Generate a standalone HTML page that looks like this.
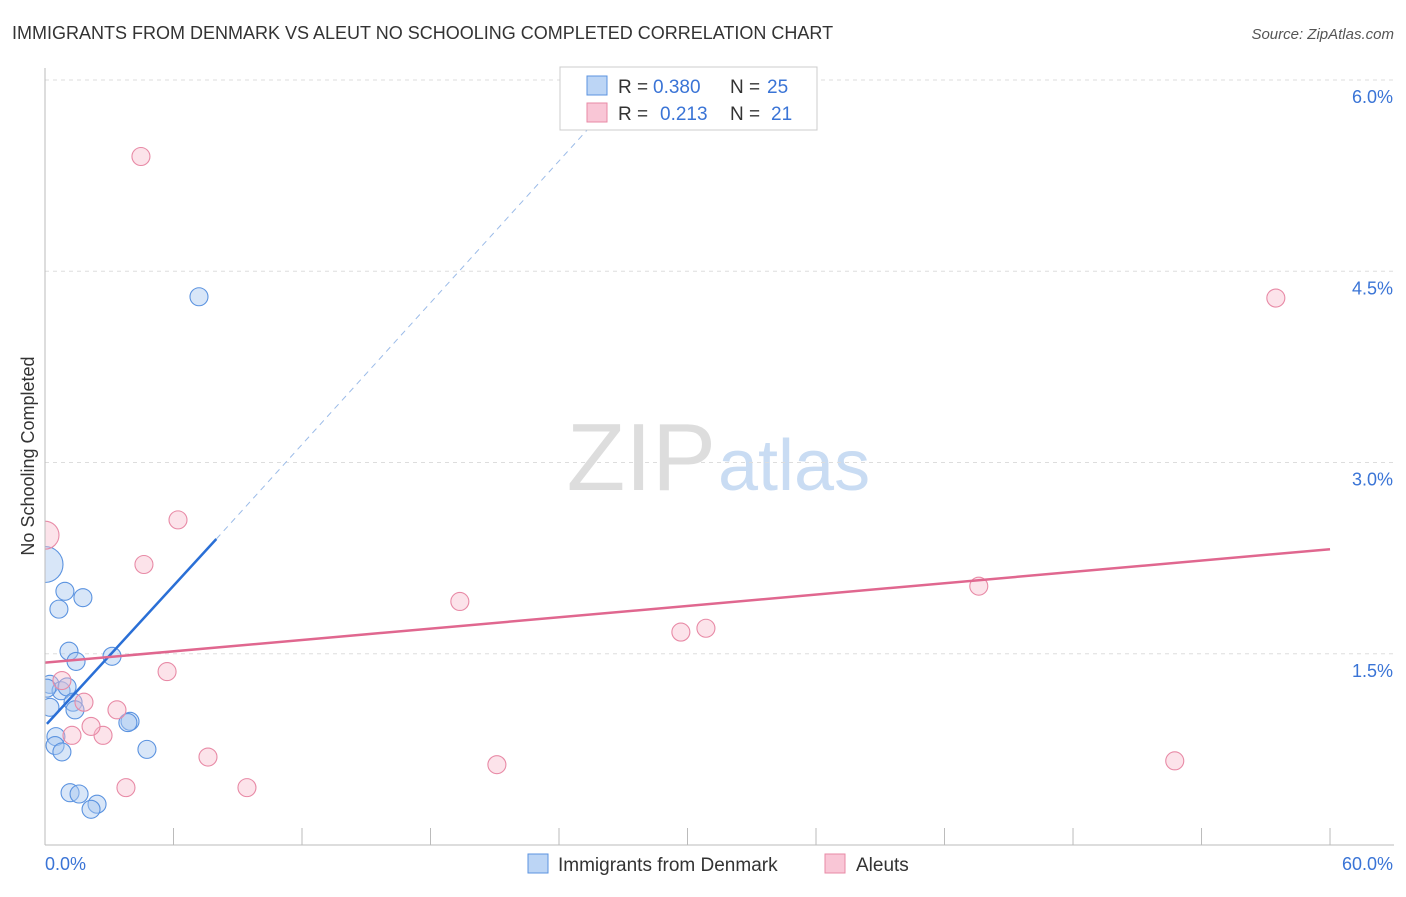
<!DOCTYPE html>
<html><head><meta charset="utf-8"><style>
body{margin:0;background:#fff;font-family:"Liberation Sans",sans-serif}
svg text{font-family:"Liberation Sans",sans-serif}
</style></head><body>
<svg width="1406" height="892">
<text x="12" y="39" font-size="18" fill="#333">IMMIGRANTS FROM DENMARK VS ALEUT NO SCHOOLING COMPLETED CORRELATION CHART</text>
<text x="1394" y="39" font-size="15" fill="#555" text-anchor="end" font-style="italic">Source: ZipAtlas.com</text>
<text x="716" y="490" font-size="96" fill="#ddd" text-anchor="end" font-family="Liberation Serif">ZIP</text>
<text x="718" y="490" font-size="72" fill="#c9dcf3">atlas</text>
<g id="grid"></g>
<g id="axes"></g>
<g id="marks"></g>
<rect x="0" y="60" width="45" height="790" fill="#fff"/>
<line x1="45" y1="68" x2="45" y2="845" stroke="#bbb"/>
<text transform="translate(34,456) rotate(-90)" font-size="18" fill="#333" text-anchor="middle">No Schooling Completed</text>
<g>
<rect x="560" y="67" width="257" height="63" fill="#fff" stroke="#ccc"/>
<rect x="587" y="76" width="20" height="19" fill="#bcd5f5" stroke="#5b93e0"/>
<rect x="587" y="103" width="20" height="19" fill="#f9c6d6" stroke="#e88aa6"/>
<text x="618" y="93" font-size="19" fill="#333">R =</text>
<text x="653" y="93" font-size="19" fill="#3a74d6">0.380</text>
<text x="730" y="93" font-size="19" fill="#333">N =</text>
<text x="767" y="93" font-size="19" fill="#3a74d6">25</text>
<text x="618" y="120" font-size="19" fill="#333">R =</text>
<text x="660" y="120" font-size="19" fill="#3a74d6">0.213</text>
<text x="730" y="120" font-size="19" fill="#333">N =</text>
<text x="771" y="120" font-size="19" fill="#3a74d6">21</text>
</g>
<g>
<rect x="528" y="854" width="20" height="19" fill="#bcd5f5" stroke="#5b93e0"/>
<text x="558" y="871" font-size="19" fill="#333">Immigrants from Denmark</text>
<rect x="825" y="854" width="20" height="19" fill="#f9c6d6" stroke="#e88aa6"/>
<text x="856" y="871" font-size="19" fill="#333">Aleuts</text>
</g>
</svg>
<script>
const xTicks=[0,6,12,18,24,30,36,42,48,54,60];
const yTicks=[1.5,3.0,4.5,6.0];
const blueX=[0,0.93,1.77,0.65,1.12,1.45,3.13,0.23,0.75,1.03,0.23,1.31,1.4,3.97,3.87,0.51,0.47,0.79,4.76,1.17,1.59,2.43,2.15,7.19,0.09];
const blueY=[2.2,1.99,1.94,1.85,1.52,1.44,1.48,1.26,1.21,1.24,1.08,1.12,1.06,0.97,0.96,0.85,0.78,0.73,0.75,0.41,0.40,0.32,0.28,4.3,1.23];
const blueR=[18,9,9,9,9,9,9,9,9,9,9,9,9,9,9,9,9,9,9,9,9,9,9,9,9];
const pinkX=[0,4.48,6.21,4.62,19.37,29.69,30.86,43.6,57.47,52.75,21.1,7.61,9.43,3.78,5.7,1.82,0.79,3.36,2.71,1.26,2.15];
const pinkY=[2.43,5.4,2.55,2.2,1.91,1.67,1.70,2.03,4.29,0.66,0.63,0.69,0.45,0.45,1.36,1.12,1.29,1.06,0.86,0.86,0.93];
const pinkR=[14,9,9,9,9,9,9,9,9,9,9,9,9,9,9,9,9,9,9,9,9];
const blueLine=[0.09,0.95,8,2.4,25.7,5.68];
const pinkLine=[0,1.43,60,2.32];
const X=v=>45+v*21.417, Y=v=>845-v*127.5;
const NS="http://www.w3.org/2000/svg";
function mk(t,a,p){const e=document.createElementNS(NS,t);for(const k in a)e.setAttribute(k,a[k]);p.appendChild(e);return e;}
const g=document.getElementById('grid'),ax=document.getElementById('axes'),m=document.getElementById('marks');
yTicks.forEach(v=>{const l=mk('line',{x1:45,x2:1394,y1:Y(v),y2:Y(v),stroke:'#ddd','stroke-dasharray':'4,4'},g);


const t=mk('text',{x:1393,y:Y(v)+23,'font-size':18,fill:'#3a74d6','text-anchor':'end'},ax);t.textContent=v.toFixed(1)+'%';

});
mk('line',{x1:45,x2:1394,y1:845,y2:845,stroke:'#bbb'},ax);
xTicks.forEach(v=>{const l=mk('line',{x1:X(v),x2:X(v),y1:828,y2:845,stroke:'#bbb'},ax);

});
const t0=mk('text',{x:45,y:870,'font-size':18,fill:'#3a74d6'},ax);t0.textContent=xTicks[0].toFixed(1)+'%';


const t1=mk('text',{x:1393,y:870,'font-size':18,fill:'#3a74d6','text-anchor':'end'},ax);t1.textContent=xTicks[xTicks.length-1].toFixed(1)+'%';


blueX.forEach((v,i)=>{const c=mk('circle',{cx:X(v),cy:Y(blueY[i]),r:blueR[i],fill:'#a9c8f0','fill-opacity':0.45,stroke:'#5b93e0','stroke-width':1.1},m);

});
pinkX.forEach((v,i)=>{const c=mk('circle',{cx:X(v),cy:Y(pinkY[i]),r:pinkR[i],fill:'#f7b8cb','fill-opacity':0.4,stroke:'#e88aa6','stroke-width':1.1},m);

});
const bl=mk('line',{x1:X(blueLine[0]),y1:Y(blueLine[1]),x2:X(blueLine[2]),y2:Y(blueLine[3]),stroke:'#2a6fd6','stroke-width':2.5},m);


const bd=mk('line',{x1:X(blueLine[2]),y1:Y(blueLine[3]),x2:X(blueLine[4]),y2:Y(blueLine[5]),stroke:'#9bbbe8','stroke-width':1,'stroke-dasharray':'6,5'},m);


const pl=mk('line',{x1:X(pinkLine[0]),y1:Y(pinkLine[1]),x2:X(pinkLine[2]),y2:Y(pinkLine[3]),stroke:'#e0678f','stroke-width':2.5},m);


</script>
</body></html>
